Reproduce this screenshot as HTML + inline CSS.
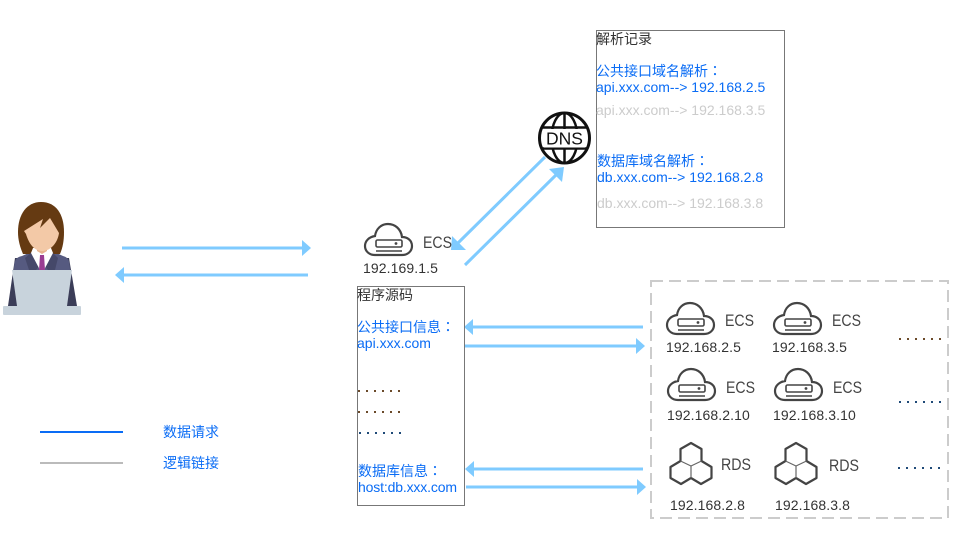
<!DOCTYPE html>
<html><head><meta charset="utf-8">
<style>
html,body{margin:0;padding:0;background:#fff;width:961px;height:535px;overflow:hidden}
svg{display:block}
text{font-family:"Liberation Sans","Noto Sans CJK SC",sans-serif;font-size:14px}
.b{fill:#0a6cf5}.g{fill:#ccc}.k{fill:#333}.i{fill:#333;letter-spacing:.1px}.e{fill:#444;font-size:17px}
.c{font-family:"Noto Sans CJK TC",sans-serif}
</style></head><body>
<svg width="961" height="535" viewBox="0 0 961 535" xmlns="http://www.w3.org/2000/svg">
<defs>
<clipPath id="globe"><circle cx="564.500" cy="138" r="25"/></clipPath>
<g id="cloud" fill="none" stroke="#444" stroke-width="2.200">
<path d="M11 32H38C44 32 48 28 48 23C48 17 43 14 38 14C37 6 31 1 24 1C17 1 12 6 11 13C5 14 1 18 1 23C1 28 5 32 11 32Z"/>
<rect x="12" y="17" width="26" height="7" rx="1.500" stroke-width="1.600"/>
<path d="M12 28H38" stroke-width="1.600"/>
<circle cx="32" cy="20.500" r="1.400" fill="#444" stroke="none"/>
</g>
<g id="hex" fill="none" stroke="#444">
<path stroke-width="2.200" stroke-linejoin="round" d="M10 18L10 6L20.500 0L31 6L31 18L41 24L41 35L30.500 41L20.500 35L10.500 41L0 35L0 24Z"/>
<path stroke-width="1.200" stroke="#666" d="M10 18L20.500 23L31 18M20.500 23V35"/>
</g>
</defs>

<!-- person -->
<path d="M15 258L8 306H18L24 258Z M69 258L77 306H67L60 258Z" fill="#3b3d58"/>
<path d="M14 270C14 259 17 257 22 256L33 251H52L63 256C67 257 70 259 70 270Z" fill="#565a80"/>
<path d="M18 232C18 214 27 202 41 202C56 202 64 214 64 232C64 240 63 247 60 254H23C20 247 18 240 18 232Z" fill="#653a12"/>
<path d="M25 258L34 250L41 264L36 270H29Z M58 258L50 250L43 264L48 270H55Z" fill="#454869"/>
<path d="M33 248H51L53 253L44 270H40L31 253Z" fill="#fff"/>
<path d="M37 244H47V251L42 254L37 251Z" fill="#e7b48f"/>
<path d="M40 255H44L45 270H39Z" fill="#9a3d92"/>
<path d="M24 231L43 219L40 228L50 218L59 233C58 241 52 251 42 251C33 251 28 241 26 234Z" fill="#f3c9a7"/>
<rect x="3" y="306" width="78" height="9" rx="1" fill="#c8d3dc"/>
<path d="M12 270H72L67 306H17Z" fill="#c8d3dc"/>

<!-- arrows -->
<g stroke="#7fcbff" stroke-width="3" fill="none">
<path d="M122 248H303M308 275H123"/>
<path d="M545 157L458 243M465 265L557 174"/>
<path d="M643 327H472M465 346H637M643 469H473M466 487H638"/>
</g>
<g fill="#7fcbff">
<path d="M311 248L302 240V256Z"/>
<path d="M115 275L124 267V283Z"/>
<path d="M451 250L466 250L452 236Z"/>
<path d="M564 167L549 169L562 182Z"/>
<path d="M464 327L473 319V335Z"/>
<path d="M645 346L636 338V354Z"/>
<path d="M465 469L474 461V477Z"/>
<path d="M646 487L637 479V495Z"/>
</g>

<!-- DNS -->
<circle cx="564.500" cy="138" r="25" fill="#fff"/>
<g fill="none" stroke="#111" stroke-width="2.500" clip-path="url(#globe)">
<ellipse cx="564.500" cy="138" rx="13" ry="25"/>
<path d="M564.500 113V163M540 127.500H589M540 148.500H589"/>
</g>
<circle cx="564.500" cy="138" r="25" fill="none" stroke="#111" stroke-width="3"/>
<rect x="544" y="129" width="41" height="18.500" fill="#fff"/>
<text x="564.500" y="144.500" text-anchor="middle" style="font-size:17.500px" fill="#111">DNS</text>

<!-- ECS top -->
<use href="#cloud" x="364" y="223"/>
<text class="e" x="423" y="248" textLength="29" lengthAdjust="spacingAndGlyphs">ECS</text>
<text class="i" x="363" y="273">192.169.1.5</text>

<!-- record box -->
<rect x="596.500" y="30.500" width="188" height="197" fill="none" stroke="#777"/>
<text class="k" x="596" y="44">解析记录</text>
<text class="b" x="596" y="76">公共接口域名解析<tspan class="c">：</tspan></text>
<text class="b" x="596" y="92">api.xxx.com--&gt; 192.168.2.5</text>
<text class="g" x="596" y="115">api.xxx.com--&gt; 192.168.3.5</text>
<text class="b" x="597" y="166">数据库域名解析<tspan class="c">：</tspan></text>
<text class="b" x="597" y="182">db.xxx.com--&gt; 192.168.2.8</text>
<text class="g" x="597" y="208">db.xxx.com--&gt; 192.168.3.8</text>

<!-- source box -->
<rect x="357.500" y="286.500" width="107" height="219" fill="none" stroke="#777"/>
<text class="k" x="357" y="300">程序源码</text>
<text class="b" x="357" y="332">公共接口信息<tspan class="c">：</tspan></text>
<text class="b" x="357" y="348">api.xxx.com</text>
<text class="b" x="358" y="476">数据库信息<tspan class="c">：</tspan></text>
<text class="b" x="358" y="492" textLength="99">host:db.xxx.com</text>
<g fill="none" stroke-width="2" stroke-dasharray="2 6" shape-rendering="crispEdges">
<path d="M358 391H402" stroke="#6b4a2a"/>
<path d="M358 412H402" stroke="#6b4a2a"/>
<path d="M359 433H403" stroke="#1f4a78"/>
<path d="M899 339H943" stroke="#6b4a2a"/>
<path d="M899 402H943" stroke="#1f4a78"/>
<path d="M898 468H942" stroke="#1f4a78"/>
</g>

<!-- dashed group -->
<rect x="651" y="281" width="297" height="237" fill="none" stroke="#ccc" stroke-width="2" stroke-dasharray="12 6"/>
<use href="#cloud" x="666" y="302"/>
<use href="#cloud" x="773" y="302"/>
<use href="#cloud" x="667" y="368"/>
<use href="#cloud" x="774" y="368"/>
<text class="e" x="725" y="326" textLength="29" lengthAdjust="spacingAndGlyphs">ECS</text>
<text class="e" x="832" y="326" textLength="29" lengthAdjust="spacingAndGlyphs">ECS</text>
<text class="e" x="726" y="393" textLength="29" lengthAdjust="spacingAndGlyphs">ECS</text>
<text class="e" x="833" y="393" textLength="29" lengthAdjust="spacingAndGlyphs">ECS</text>
<text class="i" x="666" y="352">192.168.2.5</text>
<text class="i" x="772" y="352">192.168.3.5</text>
<text class="i" x="667" y="420">192.168.2.10</text>
<text class="i" x="773" y="420">192.168.3.10</text>
<use href="#hex" x="670.500" y="443"/>
<use href="#hex" x="775.500" y="443"/>
<text class="e" x="721" y="470" textLength="30" lengthAdjust="spacingAndGlyphs">RDS</text>
<text class="e" x="829" y="471" textLength="30" lengthAdjust="spacingAndGlyphs">RDS</text>
<text class="i" x="670" y="510">192.168.2.8</text>
<text class="i" x="775" y="510">192.168.3.8</text>

<!-- legend -->
<path d="M40 432H123" stroke="#0a6cf5" stroke-width="2"/>
<path d="M40 463H123" stroke="#bbb" stroke-width="2"/>
<text class="b" x="163" y="437">数据请求</text>
<text class="b" x="163" y="468">逻辑链接</text>
</svg>
</body></html>
